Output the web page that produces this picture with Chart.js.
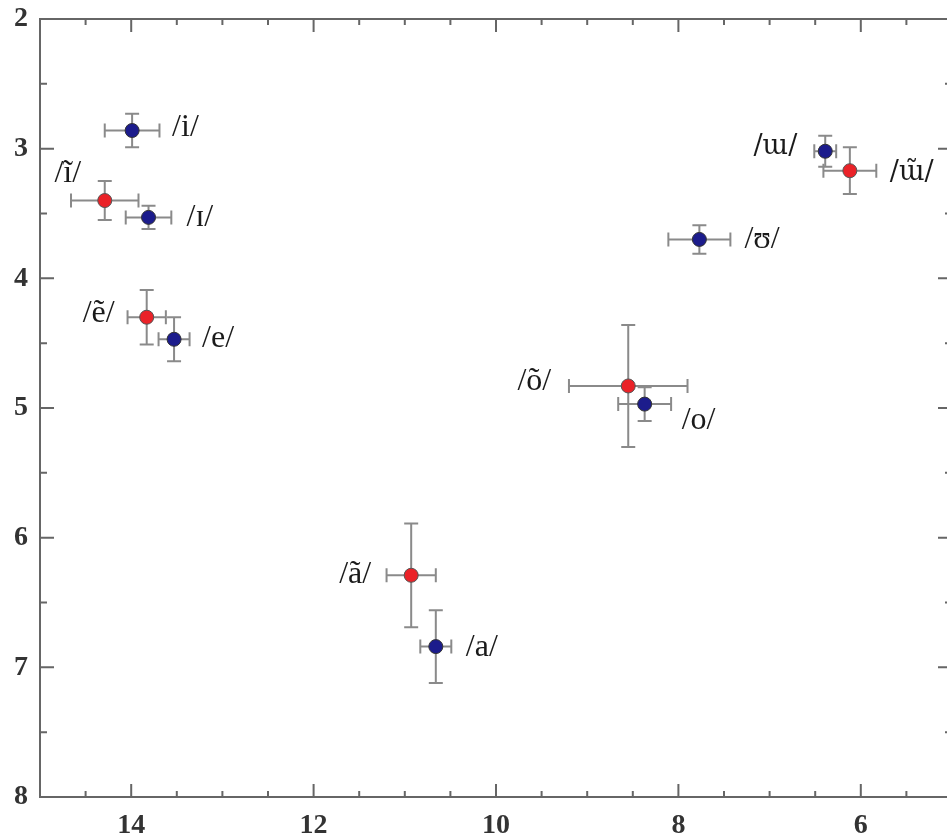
<!DOCTYPE html>
<html>
<head>
<meta charset="utf-8">
<script src="https://cdn.jsdelivr.net/npm/chart.js@4.4.0/dist/chart.umd.min.js"></script>
<style>
  html, body { margin: 0; padding: 0; background: #fff; overflow: hidden; }
  #wrap { width: 960px; height: 833px; }
</style>
</head>
<body>
<div id="wrap"><canvas id="vowels"></canvas></div>
<script>
// oral vowels (blue)
const oralLabels = ['/i/', '/ɪ/', '/e/', '/a/', '/o/', '/ʊ/', '/ɯ/'];
const oralF2 = [13.99, 13.81, 13.53, 10.66, 8.37, 7.77, 6.39];
const oralF1 = [2.86, 3.53, 4.47, 6.84, 4.97, 3.70, 3.02];
const oralF2Err = [0.30, 0.25, 0.17, 0.17, 0.29, 0.34, 0.12];
const oralF1Err = [0.13, 0.09, 0.17, 0.28, 0.13, 0.11, 0.12];

// nasal vowels (red)
const nasalLabels = ['/ĩ/', '/ẽ/', '/ã/', '/õ/', '/ɯ̃/'];
const nasalF2 = [14.29, 13.83, 10.93, 8.55, 6.12];
const nasalF1 = [3.40, 4.30, 6.29, 4.83, 3.17];
const nasalF2Err = [0.37, 0.21, 0.27, 0.65, 0.29];
const nasalF1Err = [0.15, 0.21, 0.40, 0.47, 0.18];

// axis ticks
const xTickLabels = [6, 8, 10, 12, 14];
const yTickLabels = [2, 3, 4, 5, 6, 7, 8];

// where each label sits relative to its point
const labelPlace = {
    '/i/': {align: 'left', dx: 40, dy: -3},
    '/ɪ/': {align: 'left', dx: 38, dy: 0},
    '/e/': {align: 'left', dx: 28, dy: -1},
    '/a/': {align: 'left', dx: 30, dy: 1},
    '/o/': {align: 'left', dx: 37, dy: 16},
    '/ʊ/': {align: 'left', dx: 45, dy: 0},
    '/ɯ/': {align: 'right', dx: -28, dy: -4},
    '/ĩ/': {align: 'center', dx: -37, dy: -27},
    '/ẽ/': {align: 'right', dx: -32, dy: -4},
    '/ã/': {align: 'right', dx: -40, dy: -1},
    '/õ/': {align: 'right', dx: -77, dy: -4},
    '/ɯ̃/': {align: 'left', dx: 40, dy: 2}
};

const labelFont = '32px "Liberation Serif", "DejaVu Serif", serif';
// ɯ is missing from Liberation Serif, so keep the tilde in the same font
const ipaFont = '27px "DejaVu Serif", serif';

const toPoints = (xs, ys) => xs.map((x, i) => ({x: x, y: ys[i]}));

const errorBars = {
    id: 'errorBars',
    beforeDatasetsDraw(chart) {
        const ctx = chart.ctx;
        const xs = chart.scales.x, ys = chart.scales.y;
        const cap = 7;
        ctx.save();
        ctx.strokeStyle = '#8a8a8a';
        ctx.lineWidth = 2;
        chart.data.datasets.forEach(ds => {
            ds.data.forEach((p, i) => {
                const px = xs.getPixelForValue(p.x), py = ys.getPixelForValue(p.y);
                const x1 = xs.getPixelForValue(p.x - ds.xErr[i]);
                const x2 = xs.getPixelForValue(p.x + ds.xErr[i]);
                const y1 = ys.getPixelForValue(p.y - ds.yErr[i]);
                const y2 = ys.getPixelForValue(p.y + ds.yErr[i]);
                ctx.beginPath();
                ctx.moveTo(x1, py); ctx.lineTo(x2, py);
                ctx.moveTo(x1, py - cap); ctx.lineTo(x1, py + cap);
                ctx.moveTo(x2, py - cap); ctx.lineTo(x2, py + cap);
                ctx.moveTo(px, y1); ctx.lineTo(px, y2);
                ctx.moveTo(px - cap, y1); ctx.lineTo(px + cap, y1);
                ctx.moveTo(px - cap, y2); ctx.lineTo(px + cap, y2);
                ctx.stroke();
            });
        });
        ctx.restore();
    },
    afterDatasetsDraw(chart) {
        const ctx = chart.ctx;
        ctx.save();
        ctx.fillStyle = '#1a1a1a';
        ctx.textBaseline = 'middle';
        chart.data.datasets.forEach((ds, di) => {
            const meta = chart.getDatasetMeta(di);
            meta.data.forEach((el, i) => {
                const lab = ds.names[i];
                const pl = labelPlace[lab];
                ctx.font = lab.includes('ɯ') ? ipaFont : labelFont;
                ctx.textAlign = pl.align;
                ctx.fillText(lab, el.x + pl.dx, el.y + pl.dy);
            });
        });
        ctx.restore();
    }
};

// frame with inward ticks on all four sides
const frame = {
    id: 'frame',
    afterDraw(chart) {
        const ctx = chart.ctx;
        const a = chart.chartArea;
        const xs = chart.scales.x, ys = chart.scales.y;
        ctx.save();
        ctx.strokeStyle = '#666';
        ctx.lineWidth = 2;
        ctx.strokeRect(a.left, a.top, a.right - a.left, a.bottom - a.top);
        ctx.beginPath();
        xs.ticks.forEach(t => {
            const x = xs.getPixelForValue(t.value);
            const len = Number.isInteger(t.value) && t.value % 2 === 0 ? 13 : 6;
            ctx.moveTo(x, a.bottom); ctx.lineTo(x, a.bottom - len);
            ctx.moveTo(x, a.top); ctx.lineTo(x, a.top + len);
        });
        ys.ticks.forEach(t => {
            const y = ys.getPixelForValue(t.value);
            const len = Number.isInteger(t.value) ? 14 : 7;
            ctx.moveTo(a.left, y); ctx.lineTo(a.left + len, y);
            ctx.moveTo(a.right, y); ctx.lineTo(a.right - len, y);
        });
        ctx.stroke();
        ctx.restore();
    }
};

const tickFont = {family: '"Liberation Serif", serif', size: 28, weight: 'bold'};

new Chart(document.getElementById('vowels'), {
    type: 'scatter',
    data: {
        datasets: [
            {
                label: 'oral',
                names: oralLabels,
                data: toPoints(oralF2, oralF1),
                xErr: oralF2Err,
                yErr: oralF1Err,
                backgroundColor: '#1c1c8c',
                borderColor: '#333',
                borderWidth: 1,
                pointRadius: 7,
                pointHoverRadius: 7
            },
            {
                label: 'nasal',
                names: nasalLabels,
                data: toPoints(nasalF2, nasalF1),
                xErr: nasalF2Err,
                yErr: nasalF1Err,
                backgroundColor: '#ea2228',
                borderColor: '#555',
                borderWidth: 1,
                pointRadius: 7,
                pointHoverRadius: 7
            }
        ]
    },
    options: {
        responsive: true,
        maintainAspectRatio: false,
        animation: false,
        layout: {padding: {top: 19, right: 5, left: 0, bottom: 0}},
        plugins: {
            legend: {display: false},
            tooltip: {enabled: false}
        },
        scales: {
            x: {
                type: 'linear',
                reverse: true,
                min: 5,
                max: 15,
                afterFit: s => { s.height = 36; s.paddingLeft = 0; s.paddingRight = 0; },
                grid: {drawOnChartArea: false, drawTicks: false},
                border: {display: false},
                ticks: {
                    stepSize: 0.5,
                    autoSkip: false,
                    maxRotation: 0,
                    padding: 12,
                    color: '#333',
                    font: tickFont,
                    callback: v => xTickLabels.includes(v) ? String(v) : ''
                }
            },
            y: {
                type: 'linear',
                reverse: true,
                min: 2,
                max: 8,
                afterFit: s => { s.width = 40; s.paddingTop = 0; s.paddingBottom = 0; },
                grid: {drawOnChartArea: false, drawTicks: false},
                border: {display: false},
                ticks: {
                    stepSize: 0.5,
                    autoSkip: false,
                    padding: 12,
                    color: '#333',
                    font: tickFont,
                    callback: v => yTickLabels.includes(v) ? String(v) : ''
                }
            }
        }
    },
    plugins: [errorBars, frame]
});
</script>
</body>
</html>
